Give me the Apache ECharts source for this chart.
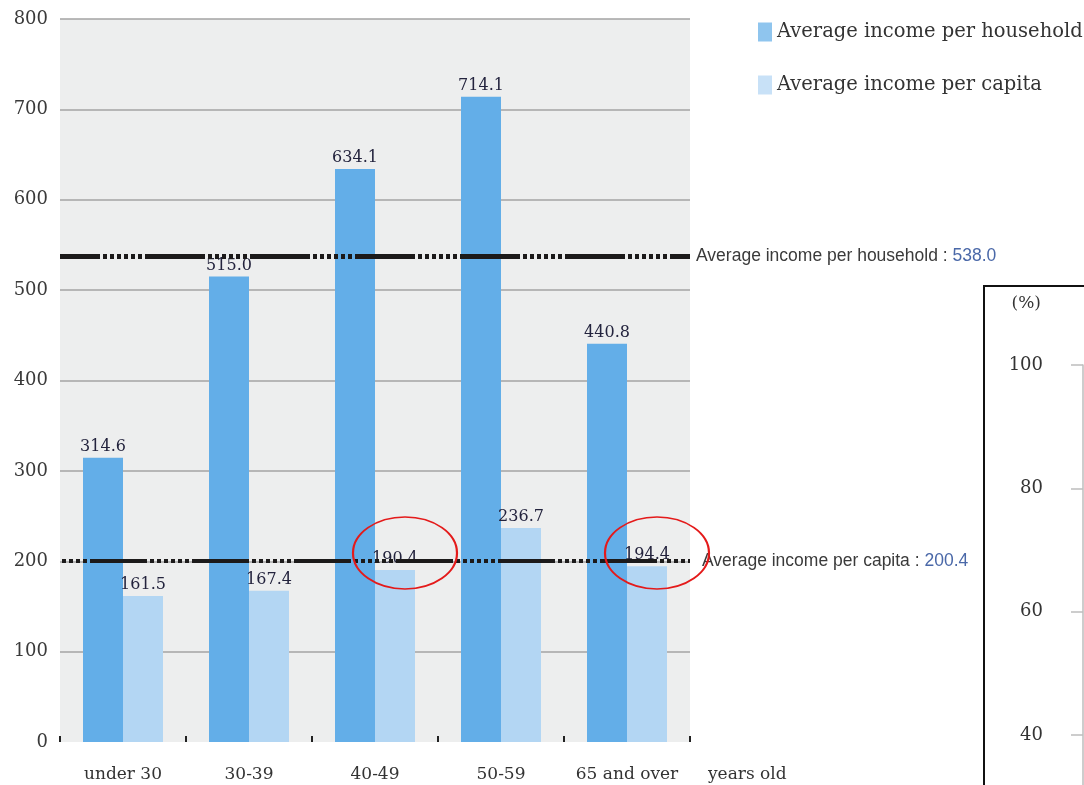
<!DOCTYPE html>
<html>
<head>
<meta charset="utf-8">
<script src="https://cdn.jsdelivr.net/npm/echarts@6/dist/echarts.min.js"></script>
<style>
  html, body { margin: 0; padding: 0; background: #ffffff; }
  #chart { width: 1084px; height: 785px; }
</style>
</head>
<body>
<div id="chart"></div>
<script>
// Average annual income by age group of household head (10,000 yen)
const ageGroups = ['under 30', '30-39', '40-49', '50-59', '65 and over'];
const householdIncome = [314.6, 515.0, 634.1, 714.1, 440.8];
const perCapitaIncome = [161.5, 167.4, 190.4, 236.7, 194.4];
const householdAverage = 538.0;
const perCapitaAverage = 200.4;
// groups whose per-capita figure falls below the overall per-capita average
const circledGroups = ['40-49', '65 and over'];

const SERIF = 'DejaVu Serif';
const SANS = 'Liberation Sans';
const HOUSEHOLD_NAME = 'Average income per household';
const CAPITA_NAME = 'Average income per capita';

// dash pattern: long solid run followed by a run of short dots
function dashPattern(solid, dots) {
  const p = [solid, 3];
  for (let i = 0; i < dots; i++) p.push(4, 3);
  return p;
}

const chart = echarts.init(document.getElementById('chart'), null, { renderer: 'canvas' });

const option = {
  animation: false,
  backgroundColor: '#ffffff',
  grid: [
    { left: 60, top: 19, width: 630, height: 723, show: true, backgroundColor: '#edeeee', borderWidth: 0, outerBoundsMode: 'none', containLabel: false },
    { left: 1083, top: 365, width: 1, height: 420, show: false, outerBoundsMode: 'none', containLabel: false }
  ],
  legend: {
    orient: 'vertical',
    left: 753,
    top: 17,
    itemWidth: 14,
    itemHeight: 19,
    itemGap: 33,
    icon: 'rect',
    textStyle: { fontFamily: SERIF, fontSize: 19.5, color: '#333333' },
    data: [
      { name: HOUSEHOLD_NAME, itemStyle: { color: '#8fc5ee' } },
      { name: CAPITA_NAME, itemStyle: { color: '#c8e1f7' } }
    ]
  },
  xAxis: [
    {
      type: 'category',
      gridIndex: 0,
      data: ageGroups,
      boundaryGap: true,
      axisLine: { show: false },
      axisTick: { show: true, inside: true, interval: 0, length: 6, lineStyle: { color: '#222222', width: 2 } },
      axisLabel: { interval: 0, margin: 24, fontFamily: SERIF, fontSize: 17, color: '#333333' },
      name: 'years old',
      nameLocation: 'end',
      nameGap: 18,
      nameTextStyle: { fontFamily: SERIF, fontSize: 17, color: '#333333', verticalAlign: 'top', padding: [24, 0, 0, 0] }
    },
    { type: 'category', gridIndex: 1, data: [], show: false }
  ],
  yAxis: [
    {
      type: 'value',
      gridIndex: 0,
      min: 0,
      max: 800,
      interval: 100,
      axisLine: { show: false },
      axisTick: { show: false },
      axisLabel: { margin: 12, fontFamily: SERIF, fontSize: 18, color: '#3a3a3a' },
      splitLine: {
        show: true,
        lineStyle: {
          width: 1.5,
          color: ['rgba(0,0,0,0)', '#a3a3a3', '#a3a3a3', '#a3a3a3', '#a3a3a3', '#a3a3a3', '#a3a3a3', '#a3a3a3', '#a3a3a3']
        }
      }
    },
    {
      // share axis of the neighbouring panel; its lower part runs off the page
      type: 'value',
      gridIndex: 1,
      min: 31.9,
      max: 100,
      splitNumber: 4,
      axisLine: { show: true, lineStyle: { color: '#bdbdbd', width: 1.5 } },
      axisTick: { show: true, length: 12, lineStyle: { color: '#bdbdbd', width: 1.5 } },
      axisLabel: { margin: 40, showMinLabel: false, fontFamily: SERIF, fontSize: 18, color: '#333333' },
      splitLine: { show: false },
      name: '(%)',
      nameLocation: 'end',
      nameGap: 61,
      nameTextStyle: { fontFamily: SERIF, fontSize: 17, color: '#333333', align: 'right', verticalAlign: 'middle', padding: [0, 42, 0, 0] }
    }
  ],
  series: [
    {
      name: HOUSEHOLD_NAME,
      type: 'bar',
      xAxisIndex: 0,
      yAxisIndex: 0,
      data: householdIncome,
      barWidth: 40,
      barGap: '0%',
      itemStyle: { color: '#63aee8' },
      label: {
        show: true,
        position: 'top',
        distance: 3,
        formatter: p => p.value.toFixed(1),
        fontFamily: SERIF,
        fontSize: 16,
        color: '#23233d'
      }
    },
    {
      name: CAPITA_NAME,
      type: 'bar',
      xAxisIndex: 0,
      yAxisIndex: 0,
      data: perCapitaIncome,
      barWidth: 40,
      barGap: '0%',
      itemStyle: { color: '#b3d6f3' },
      label: {
        show: true,
        position: 'top',
        distance: 3,
        formatter: p => p.value.toFixed(1),
        fontFamily: SERIF,
        fontSize: 16,
        color: '#23233d'
      }
    },
    {
      // reference lines for the overall averages, drawn above the bars
      name: 'averages',
      type: 'line',
      xAxisIndex: 0,
      yAxisIndex: 0,
      data: [],
      z: 5,
      markLine: {
        silent: true,
        symbol: 'none',
        animation: false,
        data: [
          {
            yAxis: householdAverage,
            lineStyle: { color: '#1c1a1a', width: 5, type: dashPattern(60, 6), dashOffset: 20 },
            label: {
              show: true,
              position: 'end',
              distance: 6,
              formatter: '{t|' + HOUSEHOLD_NAME + ' : }{v|' + householdAverage.toFixed(1) + '}',
              rich: {
                t: { fontFamily: SANS, fontSize: 17.5, color: '#3a3a3a' },
                v: { fontFamily: SANS, fontSize: 17.5, color: '#4a68a8' }
              }
            }
          },
          {
            yAxis: perCapitaAverage,
            lineStyle: { color: '#1c1a1a', width: 4, type: dashPattern(57, 6), dashOffset: 72 },
            label: {
              show: true,
              position: 'end',
              distance: 12,
              formatter: '{t|' + CAPITA_NAME + ' : }{v|' + perCapitaAverage.toFixed(1) + '}',
              rich: {
                t: { fontFamily: SANS, fontSize: 17.5, color: '#3a3a3a' },
                v: { fontFamily: SANS, fontSize: 17.5, color: '#4a68a8' }
              }
            }
          }
        ]
      }
    }
  ]
};

chart.setOption(option);

// red rings around the below-average per-capita figures, plus the frame of the neighbouring panel
function drawAnnotations() {
  const elements = [];
  const barHalf = 20;
  circledGroups.forEach(group => {
    const cx = chart.convertToPixel({ xAxisIndex: 0 }, group) + barHalf + 10;
    const cy = chart.convertToPixel({ yAxisIndex: 0 }, perCapitaAverage) - 8;
    elements.push({
      type: 'circle',
      x: cx,
      y: cy,
      scaleX: 1,
      scaleY: 36 / 52,
      shape: { cx: 0, cy: 0, r: 52 },
      style: { fill: 'none', stroke: '#e41a1a', lineWidth: 2.2, strokeNoScale: true },
      z: 100
    });
  });
  elements.push({
    type: 'rect',
    shape: { x: 984, y: 286, width: 200, height: 600 },
    style: { fill: 'none', stroke: '#111111', lineWidth: 2 },
    z: 90
  });
  chart.setOption({ graphic: { elements: elements } });
}
drawAnnotations();
</script>
</body>
</html>
